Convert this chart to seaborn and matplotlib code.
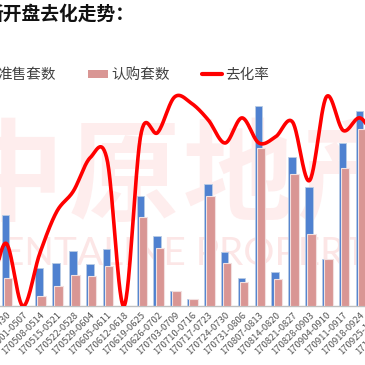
import numpy as np
import pandas as pd
import matplotlib
matplotlib.use("Agg")
import matplotlib.pyplot as plt
import seaborn as sns
from matplotlib.patches import Patch
from matplotlib.lines import Line2D

sns.set_style("white")
plt.rcParams['font.family'] = ['Noto Sans CJK SC', 'DejaVu Sans']

# ---------------- data ----------------
categories = ["170417-0423", "170424-0430", "170501-0507", "170508-0514", "170515-0521",
              "170522-0528", "170529-0604", "170605-0611", "170612-0618", "170619-0625",
              "170626-0702", "170703-0709", "170710-0716", "170717-0723", "170724-0730",
              "170731-0806", "170807-0813", "170814-0820", "170821-0827", "170828-0903",
              "170904-0910", "170911-0917", "170918-0924", "170925-1001", "171002-1008"]
nan = np.nan
supply = [nan, 455, 0, 190, 215, 275, 210, 285, 0, 550, 350, 75, 35, 610, 270,
          140, 1000, 170, 745, 595, 235, 815, 975, nan, nan]          # 准售套数
sold = [nan, 140, 0, 50, 100, 155, 150, 200, 0, 445, 290, 75, 34, 550, 215,
        120, 790, 135, 660, 360, 235, 690, 885, nan, nan]             # 认购套数
rate = [5, 30, 0, 25, 45, 55, 71, 70, 0, 82, 83, 100, 97, 89, 78,
        90, 78, 81, 88, 60, 100, 84, 90, 80, nan]                     # 去化率 (%)

title = "新开盘去化走势："
legend_labels = ["准售套数", "认购套数", "去化率"]

# ---------------- layout ----------------
W = H = 365
fig = plt.figure(figsize=(3.65, 3.65), dpi=100)

x0_px, step_px = -10.9, 16.86          # pixel of first category, pixel per category
xmin, xmax = -0.5, 24.5
left_px = x0_px + xmin * step_px
right_px = x0_px + xmax * step_px
base_px, top_px = 306, 90
ax = fig.add_axes([left_px / W, (H - base_px) / H,
                   (right_px - left_px) / W, (base_px - top_px) / H])

pos = np.arange(len(categories))
df = pd.DataFrame({"pos": pos, "supply": supply, "sold": sold, "rate": rate})

blue = "#4f81d0"
pink = "#d99694"

# watermark (behind the axes)
wm_col = "#feeded"
for ch, cx in zip("中原地产", [8, 124, 238, 352]):
    fig.text(cx / W, 1 - 180 / H, ch, fontsize=80, fontweight='bold', color=wm_col,
             ha='center', va='center', zorder=-5)
fig.text(-24 / W, 1 - 254 / H, "CENTALINE PROPERTY", fontsize=28, color="#fce6e6",
         family=['Lato', 'DejaVu Sans'], fontweight='normal', ha='left', va='center', zorder=-5)
ax.patch.set_alpha(0)

sns.barplot(data=df.dropna(subset=["supply"]).assign(p=lambda d: d.pos - 0.03),
            x="p", y="supply", native_scale=True, width=0.45, color=blue, saturation=1,
            errorbar=None, edgecolor="#b8cce4", linewidth=0.6, ax=ax, zorder=2)
sns.barplot(data=df.dropna(subset=["sold"]).assign(p=lambda d: d.pos + 0.12),
            x="p", y="sold", native_scale=True, width=0.5, color=pink, saturation=1,
            errorbar=None, edgecolor="#f2e0e0", linewidth=0.8, ax=ax, zorder=3)

ax.set_xlim(xmin, xmax)
ax.set_ylim(0, (base_px - top_px) * 5)
ax.set_xlabel("")
ax.set_ylabel("")
ax.set_yticks([])
for s in ["top", "left", "right"]:
    ax.spines[s].set_visible(False)
ax.spines["bottom"].set_color("#bfbfbf")
ax.spines["bottom"].set_linewidth(1.0)

ax.set_xticks(pos)
ax.set_xticklabels(categories, rotation=45, ha='right', rotation_mode='anchor',
                   fontsize=6.8, color="#555555")
ax.tick_params(axis='x', which='major', length=0, pad=3)
ax.set_xticks(pos[:-1] + 0.5, minor=True)
ax.tick_params(axis='x', which='minor', length=4, width=0.8, color="#a6a6a6", direction='out')

# smooth line (Catmull-Rom through the data points)
ax2 = ax.twinx()
r = df.dropna(subset=["rate"])
rx = r.pos.to_numpy(float)
ry = r.rate.to_numpy(float)
p = np.concatenate([[ry[0]], ry, [ry[-1]]])
xs, ys = [], []
t = np.linspace(0, 1, 30, endpoint=False)
for i in range(len(ry) - 1):
    p0, p1, p2, p3 = p[i], p[i + 1], p[i + 2], p[i + 3]
    m1, m2 = (p2 - p0) / 2, (p3 - p1) / 2
    h00 = 2 * t**3 - 3 * t**2 + 1
    h10 = t**3 - 2 * t**2 + t
    h01 = -2 * t**3 + 3 * t**2
    h11 = t**3 - t**2
    ys.append(h00 * p1 + h10 * m1 + h01 * p2 + h11 * m2)
    xs.append(rx[i] + t * (rx[i + 1] - rx[i]))
xs.append([rx[-1]]); ys.append([ry[-1]])
line_df = pd.DataFrame({"x": np.concatenate(xs), "y": np.concatenate(ys)})
sns.lineplot(data=line_df, x="x", y="y", sort=False, estimator=None, color="#ff0000",
             linewidth=2.6, ax=ax2)
ax2.set_ylim(0, (base_px - top_px) / 209 * 100)
ax2.set_xlim(xmin, xmax)
ax2.set_yticks([])
ax2.set_ylabel("")
for s in ["top", "left", "right", "bottom"]:
    ax2.spines[s].set_visible(False)

# title & legend
fig.text(-15 / W, 1 - 14.5 / H, title, fontsize=13.5, fontweight='bold', color="#111111",
         ha='left', va='center')
handles = [Patch(facecolor=blue, edgecolor='none'), Patch(facecolor=pink, edgecolor='none'),
           Line2D([0], [0], color="#ff0000", lw=3)]
fig.legend(handles, legend_labels, loc='center left', bbox_to_anchor=(-26 / W, 1 - 75 / H),
           ncol=3, frameon=False, fontsize=10.5, handlelength=1.4, handleheight=0.5,
           handletextpad=0.2, columnspacing=2.2, borderpad=0, borderaxespad=0,
           labelcolor="#404040")

fig.savefig("out.png", dpi=100)
